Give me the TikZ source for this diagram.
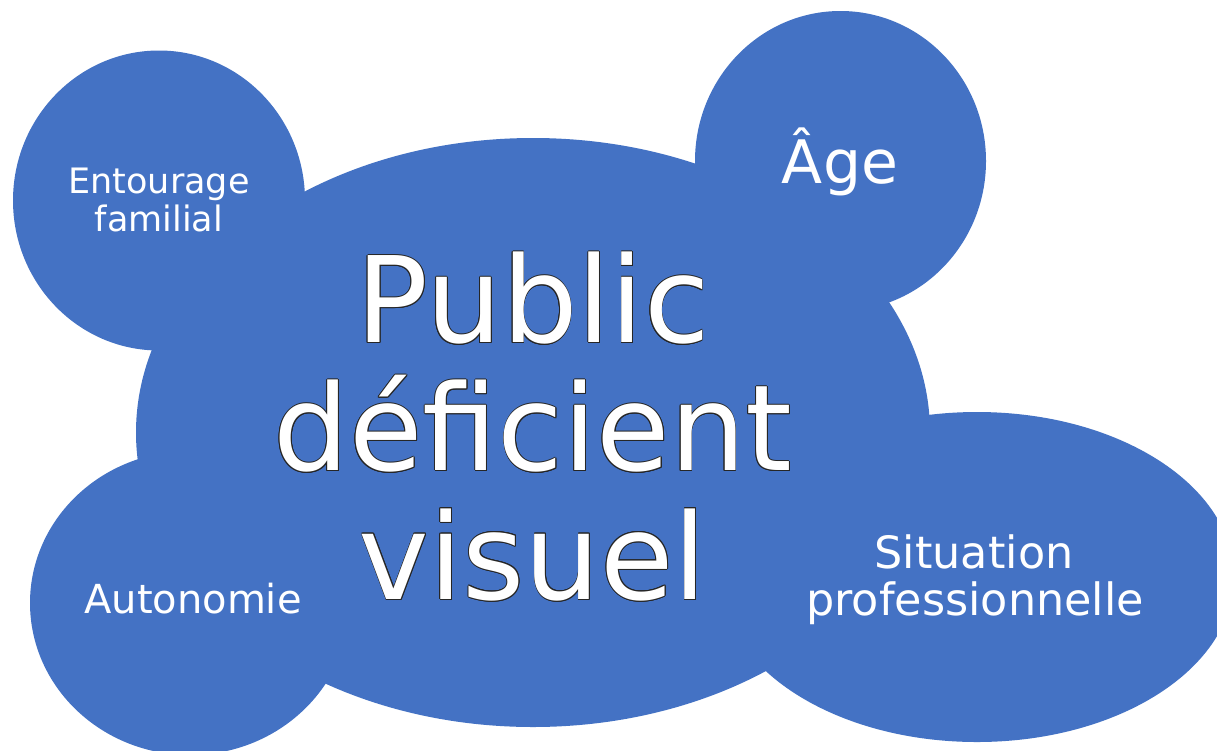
\documentclass[tikz,border=0pt]{standalone}
\usepackage{fontspec}
\setmainfont{DejaVu Sans}
\usetikzlibrary{shapes.geometric}
\definecolor{blob}{HTML}{4472C4}
\tikzset{
  blobshape/.style={fill=blob, draw=none},
  lab/.style={text=white, inner sep=0pt, anchor=base},
  bigtxt/.style={inner sep=0pt, anchor=base, font=\fontsize{119.3}{128}\selectfont},
  bigline/.style={bigtxt, text=black!85},
}
\begin{document}
\begin{tikzpicture}[x=1pt,y=-1pt]
\clip (0,0) rectangle (1217,750);
\fill[white] (0,0) rectangle (1217,750);
% shapes
\fill[blobshape] (533,432.5) ellipse [x radius=397, y radius=294.5];
\fill[blobshape] (159,200.5) ellipse [x radius=146, y radius=150];
\fill[blobshape] (840.5,161) ellipse [x radius=145.5, y radius=150];
\fill[blobshape] (190,603) ellipse [x radius=160, y radius=152];
\fill[blobshape] (977,577) ellipse [x radius=257, y radius=165];
% anchors for the big text lines
\coordinate (p1) at (533,342.7);
\coordinate (p2) at (533,470.7);
\coordinate (p3) at (533,599.3);
% outline copies
\foreach \a in {0,30,...,330}{
  \node[bigline] at ([shift={(\a:0.8)}]p1) {Public};
  \node[bigline] at ([shift={(\a:0.8)}]p2) {déficient};
  \node[bigline] at ([shift={(\a:0.8)}]p3) {visuel};
}
\node[bigtxt, text=white] (pub) at (p1) {Public};
\node[bigtxt, text=white] (def) at (p2) {déficient};
\node[bigtxt, text=white] (vis) at (p3) {visuel};
% small labels
\node[lab, font=\fontsize{35}{38}\selectfont] (ent1) at (159,193.3) {Entourage};
\node[lab, font=\fontsize{35}{38}\selectfont] (ent2) at (159,231.7) {familial};
\node[lab, font=\fontsize{60}{64}\selectfont] (age) at (840,183) {Âge};
\node[lab, font=\fontsize{40}{44}\selectfont] (aut) at (193,613) {Autonomie};
\node[lab, font=\fontsize{44.5}{47}\selectfont] (sit1) at (974,568.3) {Situation};
\node[lab, font=\fontsize{44.5}{47}\selectfont] (sit2) at (975,615) {professionnelle};
\end{tikzpicture}
\end{document}
